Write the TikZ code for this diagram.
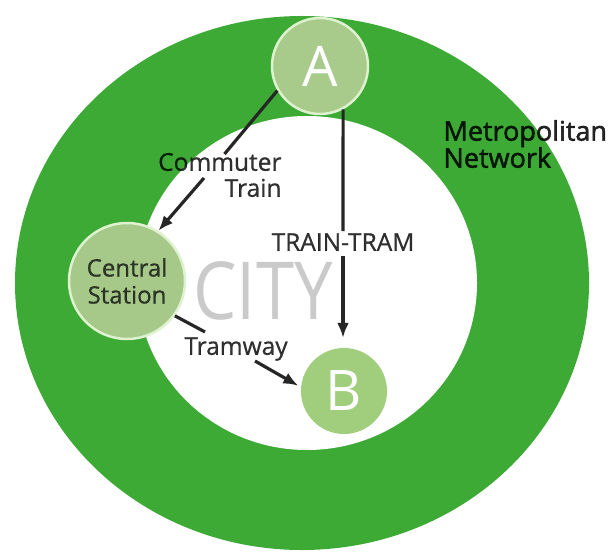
\documentclass[tikz,border=0pt]{standalone}
\usepackage{fontspec}
\setmainfont{Open Sans}
\newfontfamily\medfont[FakeBold=0.6]{Open Sans}
\newfontfamily\heavyfont[FakeBold=1.6]{Open Sans}
\usetikzlibrary{arrows.meta}
\definecolor{ringgreen}{RGB}{60,170,52}
\definecolor{afill}{RGB}{168,203,140}
\definecolor{csfill}{RGB}{166,201,138}
\definecolor{bfill}{RGB}{160,206,125}
\definecolor{rimcol}{RGB}{222,242,208}
\definecolor{citygray}{RGB}{202,202,202}
\tikzset{
  stop/.style={circle, inner sep=0pt},
  label txt/.style={text=black, text opacity=0.8, font=\medfont\fontsize{24.5}{26}\selectfont},
  conn/.style={line width=3.2pt, draw=black!85},
  tip/.style={-{Latex[length=15pt,width=12pt]}},
}
\begin{document}
\begin{tikzpicture}[x=1pt,y=-1pt]
\useasboundingbox (0,0) rectangle (609,553);
% ring
\fill[ringgreen] (302,283) ellipse [x radius=287, y radius=267];
\fill[white] (307,283) ellipse [x radius=170, y radius=167];
% city word
\node[text=citygray, font=\fontsize{80}{82}\selectfont, xscale=0.86] (city) at (263,291) {CITY};
% stations
\node[stop, minimum size=96pt, fill=afill, draw=rimcol, line width=2.5pt,
      text=white, font=\fontsize{56}{56}\selectfont] (A) at (320,66) {A};
\node[stop, minimum size=116pt, fill=csfill, draw=rimcol, line width=2.5pt,
      align=center, text=black, text opacity=0.72, font=\medfont\fontsize{24}{27}\selectfont] (CS) at (127,281) {Central\\Station};
\node[stop, minimum size=86pt, fill=bfill,
      text=white, font=\fontsize{56}{56}\selectfont] (B) at (344,391) {B};
% labels
\node[label txt, align=right, anchor=east] (comm) at (285,175) {Commuter\\Train};
\node[label txt] (tt) at (343,242) {TRAIN-TRAM};
\node[label txt] (tram) at (236,349) {Tramway};
\node[label txt, font=\heavyfont\fontsize{27}{27}\selectfont, text opacity=0.85, align=left, anchor=west] (metro) at (440,144) {Metropolitan\\Network};
% connectors
\coordinate (c1) at (224.5,154);
\coordinate (c2) at (204,178);
\draw[conn] (A.210) -- (c1);
\draw[conn, tip] (c2) -- (CS.58);
\coordinate (t1) at (343,231);
\coordinate (t2) at (343,256);
\draw[conn] (A.-62) -- (t1);
\draw[conn, tip, shorten >=10pt] (t2) -- (B.north -| t2);
\coordinate (m1) at (205,332);
\coordinate (m2) at (255,361);
\draw[conn] (CS.-36) -- (m1);
\draw[conn, tip, shorten >=3pt] (m2) -- (B.175);
\end{tikzpicture}
\end{document}
